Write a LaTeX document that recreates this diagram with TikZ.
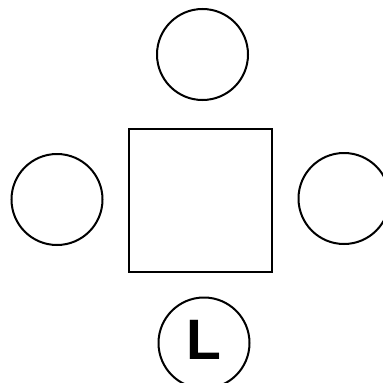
\documentclass[tikz,border=0pt]{standalone}
\usepackage{fontspec}
\newfontfamily\labelfont{Liberation Sans}
\usetikzlibrary{calc}

\begin{document}
\begin{tikzpicture}[x=1pt,y=-1pt,
  seat/.style={draw,circle,line width=2pt,minimum size=91pt,inner sep=0pt},
  table/.style={draw,rectangle,line width=2pt,minimum size=143pt,inner sep=0pt}]
\useasboundingbox (0,0) rectangle (383,383);
\clip (0,0) rectangle (383,383); % Clips the picture...

\node[table] (Table) at (200.2,200.2) {};

\node[seat] (SeatTop)    at (202.5,54.5) {};
\node[seat] (SeatLeft)   at (57,199.5) {};
\node[seat] (SeatRight)  at (344,198.5) {};
\node[seat] (SeatBottom) at (204,343) {};

\node[inner sep=0pt,font=\labelfont\bfseries\fontsize{57}{57}\selectfont] (Letter) at (204,339.5) {L};
\end{tikzpicture}
\end{document}
